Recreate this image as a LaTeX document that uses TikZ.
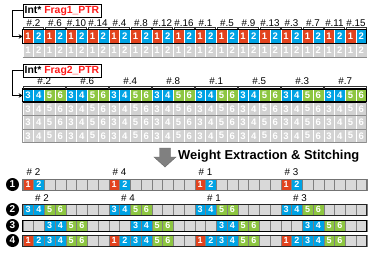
\documentclass[tikz,border=0pt]{standalone}
\usepackage{fontspec}
\setmainfont{Liberation Sans}
\usetikzlibrary{arrows.meta,calc}
\definecolor{cred}{HTML}{E2431E}
\definecolor{cblue}{HTML}{00A3E4}
\definecolor{cgreen}{HTML}{8DC641}
\definecolor{cgray}{HTML}{D2D2D2}
\definecolor{ebox}{HTML}{D9D9D9}
\definecolor{eline}{HTML}{7F7F7F}
\definecolor{ptrred}{HTML}{FF1A1A}
\tikzset{
  cellbase/.style={anchor=north west, minimum width=10.75pt, inner sep=0pt, outer sep=0pt,
    text=white, font=\fontsize{9.5}{9.5}\selectfont\bfseries, draw=white, line width=0.4pt},
  topcell/.style={cellbase, minimum height=14pt},
  midcell/.style={cellbase, minimum height=13pt},
  graycell/.style={cellbase, fill=cgray},
  botcell/.style={cellbase, minimum height=11pt, draw=eline, line width=0.35pt, font=\fontsize{9}{9}\selectfont\bfseries},
  b0/.style={fill=ebox},
  b1/.style={fill=cred},
  b2/.style={fill=cblue},
  b3/.style={fill=cblue},
  b4/.style={fill=cblue},
  b5/.style={fill=cgreen},
  b6/.style={fill=cgreen},
  lab/.style={font=\fontsize{9.8}{9.8}\selectfont, inner sep=0pt},
  ptrbox/.style={draw=black, line width=0.6pt, anchor=north west, inner sep=1.8pt, minimum height=12pt,
    font=\fontsize{10.4}{10.4}\selectfont\bfseries},
  ptrarrow/.style={line width=1.1pt, -{Stealth[length=4pt,width=4.5pt]}},
  bracket/.style={line width=0.5pt, draw=black!80},
  numcirc/.style={circle, fill=black, text=white, minimum size=13pt, inner sep=0pt,
    font=\fontsize{10}{10}\selectfont\bfseries}
}
\begin{document}
\begin{tikzpicture}[x=1pt,y=-1pt]
\useasboundingbox (0,0) rectangle (374,260);
\fill[white] (0,0) rectangle (374,260);
\def\W{10.75}
\def\X{22.7}
% ---------- Frag1 ----------
\node[ptrbox] (p1) at (22.6,4) {Int* \textcolor{ptrred}{Frag1\_PTR}};
\foreach \i in {0,...,15}{
  \node[topcell, fill=cred] (fa\i) at ({\X+2*\i*\W},29.5) {1};
  \node[topcell, fill=cblue] (fb\i) at ({\X+(2*\i+1)*\W},29.5) {2};
  \node[graycell, minimum height=13.5pt] (ga\i) at ({\X+2*\i*\W},43.5) {1};
  \node[graycell, minimum height=13.5pt] (gb\i) at ({\X+(2*\i+1)*\W},43.5) {2};
}
\draw[line width=1.2pt] (fa0.north west) rectangle (fb15.south east);
\draw[line width=0.4pt, draw=black!45] (ga0.south west) -- (gb15.south east);
\foreach \n [count=\k from 0] in {2,6,10,14,4,8,12,16,1,5,9,13,3,7,11,15}{
  \node[lab] (l1\k) at ({\X+(2*\k+1)*\W},23.3) {\#.\n};
  \draw[bracket] ({\X+2*\k*\W+0.6},29.2) -- ++(0,-1.6) -- ++({2*\W-1.2},0) -- ++(0,1.6);
}
\draw[ptrarrow] (p1.west) -- ++(-10,0) |- (fa0.west);
% ---------- Frag2 ----------
\node[ptrbox] (p2) at (22.6,64) {Int* \textcolor{ptrred}{Frag2\_PTR}};
\foreach \g in {0,...,7}{
  \foreach \v [count=\j from 0] in {3,4,5,6}{
    \pgfmathsetmacro\xx{\X+(4*\g+\j)*\W}
    \node[midcell, b\v] (m\g\j) at (\xx,89) {\v};
    \node[graycell, minimum height=13.5pt] (ra\g\j) at (\xx,102) {\v};
    \node[graycell, minimum height=13.5pt] (rb\g\j) at (\xx,115.5) {\v};
    \node[graycell, minimum height=13.5pt] (rc\g\j) at (\xx,129) {\v};
  }
}
\draw[line width=1.2pt] (m00.north west) rectangle (m73.south east);
\foreach \yy in {115.5,129,142.5}{
  \draw[line width=0.6pt, draw=black!45] (\X,\yy) -- ({\X+32*\W},\yy);
}
\draw[line width=0.5pt, draw=black!40] (ra00.north west) -- (rc00.south west);
\draw[line width=0.5pt, draw=black!40] (ra73.north east) -- (rc73.south east);
\foreach \n [count=\k from 0] in {2,6,4,8,1,5,3,7}{
  \node[lab] (l2\k) at ({\X+(4*\k+2)*\W},81.3) {\#.\n};
  \draw[bracket] ({\X+4*\k*\W+0.6},88.8) -- ++(0,-2.4) -- ++({4*\W-1.2},0) -- ++(0,2.4);
}
\draw[ptrarrow] (p2.west) -- ++(-10,0) |- (m00.west);
% ---------- big arrow & title ----------
\fill[draw=black!60, fill=black!50, line width=0.4pt]
  (159.5,148) -- (170.5,148) -- (170.5,157) -- (176,157) -- (165,167) -- (154,157) -- (159.5,157) -- cycle;
\node[anchor=west, inner sep=0pt, font=\fontsize{12.9}{12.9}\selectfont\bfseries] (title) at (178,156.2) {Weight Extraction \& Stitching};
% ---------- bottom rows ----------
\foreach \r/\yy/\lst/\fr in {1/179/{1,2,0,0,0,0,0,0}/black!55, 2/204/{3,4,5,6,0,0,0,0}/black!85, 3/220/{0,0,3,4,5,6,0,0}/black, 4/235/{1,2,3,4,5,6,0,0}/black!85}{
  \node[numcirc] (c\r) at (12.5,{\yy+5.5}) {\r};
  \foreach \g in {0,...,3}{
    \foreach \v [count=\j from 0] in \lst{
      \node[botcell, b\v] (q\r\g\j) at ({\X+(8*\g+\j)*\W},\yy) {\ifnum\v>0 \v\fi};
    }
  }
  \draw[line width=0.8pt, draw=\fr] (\X,\yy) rectangle ({\X+32*\W},{\yy+11});
}
\foreach \n [count=\k from 0] in {2,4,1,3}{
  \node[lab] (t1\k) at ({\X+(8*\k+1)*\W},172.5) {\# \n};
  \node[lab] (t2\k) at ({\X+(8*\k+1.8)*\W},198) {\# \n};
}
\end{tikzpicture}
\end{document}
